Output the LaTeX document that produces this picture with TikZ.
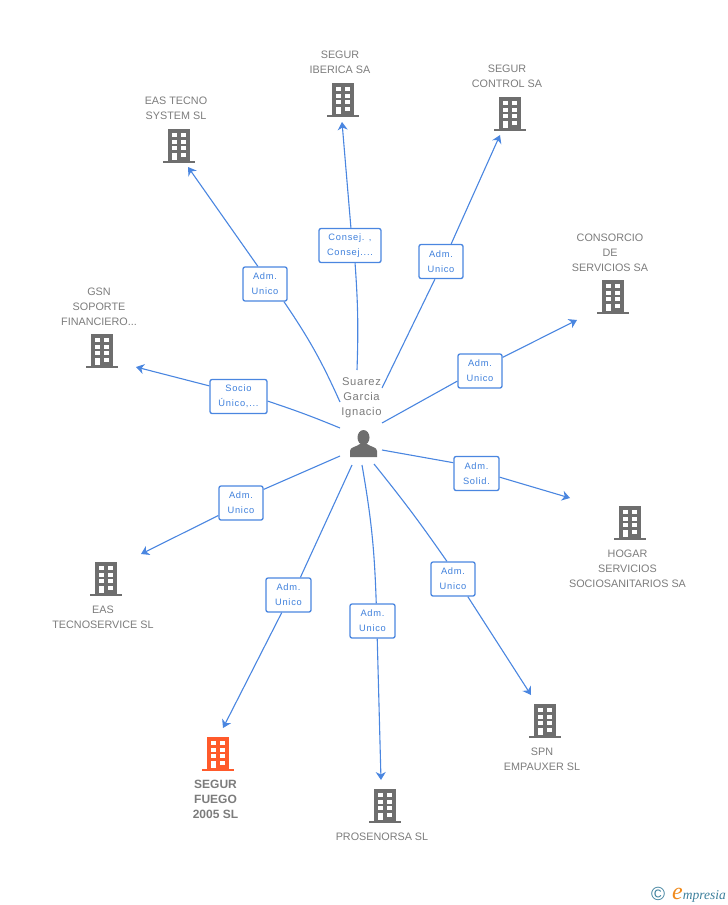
\documentclass[tikz,border=0pt]{standalone}
\usepackage{fontspec}
\setmainfont{Liberation Sans}
\newfontfamily\boxfont[LetterSpace=8]{Liberation Sans}
\newfontfamily\hubfont[LetterSpace=6]{Liberation Sans}
\newfontfamily\logofont{Liberation Serif}
\usetikzlibrary{arrows.meta}

\definecolor{linkblue}{HTML}{4A86E0}
\definecolor{boxblue}{HTML}{3F80DC}
\definecolor{txtgray}{HTML}{7C7C7C}
\definecolor{bldgray}{HTML}{6E6E6E}
\definecolor{bldorange}{HTML}{FF5A2B}
\definecolor{logoteal}{HTML}{3C7F9C}
\definecolor{logoorange}{HTML}{F08A1C}

\tikzset{
    link/.style={linkblue, line width=1.1pt},
    linkarr/.style={link, -{Stealth[length=8pt,width=10pt,inset=2.5pt]}},
    relbox/.style={draw=linkblue, line width=1.3pt, fill=white, rounded corners=2pt,
        text=boxblue, align=center, inner sep=0pt, minimum height=34pt,
        font=\boxfont\fontsize{9.3}{15}\selectfont},
    firmlbl/.style={text=txtgray, align=center, inner sep=0pt,
        font=\fontsize{10.8}{15}\selectfont},
    pics/bldg/.style={code={
        \fill[#1] (-11,-17) rectangle (11,15);
        \fill[#1] (-16,15) rectangle (16,17);
        \foreach \wy in {-13,-6,0} {
            \fill[white] (-7,\wy) rectangle (-2,\wy+4);
            \fill[white] (2,\wy) rectangle (7,\wy+4);
        }
        \fill[white] (-7,7) rectangle (-2,14);
        \fill[white] (2,7) rectangle (7,11);
    }}
}

\begin{document}
\begin{tikzpicture}[x=1pt,y=-1pt]

    \useasboundingbox (0,0) rectangle (728,905);

    % buildings
    \pic at (179,146) {bldg=bldgray};
    \pic at (343,100) {bldg=bldgray};
    \pic at (510,114) {bldg=bldgray};
    \pic at (613,297) {bldg=bldgray};
    \pic at (102,351) {bldg=bldgray};
    \pic at (630,523) {bldg=bldgray};
    \pic at (106,579) {bldg=bldgray};
    \pic at (218,754) {bldg=bldorange};
    \pic at (385,806) {bldg=bldgray};
    \pic at (545,721) {bldg=bldgray};

    % firm names
    \node[firmlbl] (easTecno) at (176,108.2) {EAS TECNO\\SYSTEM SL};
    \node[firmlbl] (segurIberica) at (340,62.2) {SEGUR\\IBERICA SA};
    \node[firmlbl] (segurControl) at (507,76.2) {SEGUR\\CONTROL SA};
    \node[firmlbl] (consorcio) at (610,252.7) {CONSORCIO\\DE\\SERVICIOS SA};
    \node[firmlbl] (gsn) at (99,306.7) {GSN\\SOPORTE\\FINANCIERO...};
    \node[firmlbl] (hogar) at (627.5,568.7) {HOGAR\\SERVICIOS\\SOCIOSANITARIOS SA};
    \node[firmlbl] (easService) at (103,617.2) {EAS\\TECNOSERVICE SL};
    \node[firmlbl, font=\bfseries\fontsize{12}{15}\selectfont] (fuego) at (215.5,799) {SEGUR\\FUEGO\\2005 SL};
    \node[firmlbl] (prosenorsa) at (382,836.7) {PROSENORSA SL};
    \node[firmlbl] (spn) at (542,759.2) {SPN\\EMPAUXER SL};

    % person in the middle
    \fill[bldgray] (363.5,437.5) ellipse (6pt and 7.5pt);
    \fill[bldgray] (350,457) -- (350,451) .. controls (350,447) and (356,447) .. (360,444)
        -- (367,444) .. controls (371,447) and (377,447) .. (377,451) -- (377,457) -- cycle;
    \node[text=txtgray, align=center, inner sep=0pt, font=\hubfont\fontsize{11.2}{15}\selectfont]
        (hub) at (361.5,397.5) {Suarez\\Garcia\\Ignacio};

    % free ends of the links
    \coordinate (st1) at (340,402);
    \coordinate (st2) at (357,370);
    \coordinate (st3) at (382,388);
    \coordinate (st4) at (382,423);
    \coordinate (st5) at (340,428);
    \coordinate (st6) at (382,450);
    \coordinate (st7) at (340,456);
    \coordinate (st8) at (352,465);
    \coordinate (st9) at (362,465);
    \coordinate (st10) at (374,464);

    \coordinate (end1) at (188,167);
    \coordinate (end2) at (342,122);
    \coordinate (end3) at (500,135);
    \coordinate (end4) at (577,320);
    \coordinate (end5) at (136,367);
    \coordinate (end6) at (570,498);
    \coordinate (end7) at (141,554);
    \coordinate (end8) at (223,728);
    \coordinate (end9) at (381,780);
    \coordinate (end10) at (531,695);

    % relation boxes
    \node[relbox, minimum width=44pt] (rel1) at (265,284) {Adm.\\Unico};
    \node[relbox, minimum width=62pt] (rel2) at (350,245.5) {Consej. ,\\Consej....};
    \node[relbox, minimum width=44pt] (rel3) at (441,261.5) {Adm.\\Unico};
    \node[relbox, minimum width=44pt] (rel4) at (480,371) {Adm.\\Unico};
    \node[relbox, minimum width=57pt] (rel5) at (238.5,396.5) {Socio\\Único,...};
    \node[relbox, minimum width=45pt] (rel6) at (476.5,473.5) {Adm.\\Solid.};
    \node[relbox, minimum width=44pt] (rel7) at (241,503) {Adm.\\Unico};
    \node[relbox, minimum width=45pt] (rel8) at (288.5,595) {Adm.\\Unico};
    \node[relbox, minimum width=45pt] (rel9) at (372.5,621) {Adm.\\Unico};
    \node[relbox, minimum width=44pt] (rel10) at (453,579) {Adm.\\Unico};

    % links
    \draw[link] (st1) to[bend right=5] (rel1.-43);
    \draw[linkarr] (rel1.112) -- (end1);
    \draw[link] (st2) to[bend right=3] (rel2.-74);
    \draw[linkarr] (rel2.87) -- (end2);
    \draw[link] (st3) -- (rel3.-109);
    \draw[linkarr] (rel3.60) -- (end3);
    \draw[link] (st4) -- (rel4.-156);
    \draw[linkarr] (rel4.31) -- (end4);
    \draw[link] (st5) to[bend right=2] (rel5.-9);
    \draw[linkarr] (rel5.160) -- (end5);
    \draw[link] (st6) -- (rel6.155);
    \draw[linkarr] (rel6.-9) -- (end6);
    \draw[link] (st7) -- (rel7.31);
    \draw[linkarr] (rel7.-151) -- (end7);
    \draw[link] (st8) -- (rel8.56);
    \draw[linkarr] (rel8.-111) -- (end8);
    \draw[link] (st9) to[bend left=4] (rel9.78);
    \draw[linkarr] (rel9.-75) -- (end9);
    \draw[link] (st10) to[bend left=2] (rel10.109);
    \draw[linkarr] (rel10.-50) -- (end10);

    % logo
    \node[inner sep=0pt, text=logoteal, font=\fontsize{19}{19}\selectfont] (copyr) at (658,894) {©};
    \node[inner sep=0pt, anchor=base west, text=logoteal, font=\logofont\itshape\fontsize{13.5}{15}\selectfont]
        (logo) at (672,899) {{\color{logoorange}\fontsize{24}{15}\selectfont e}mpresia};

\end{tikzpicture}
\end{document}
